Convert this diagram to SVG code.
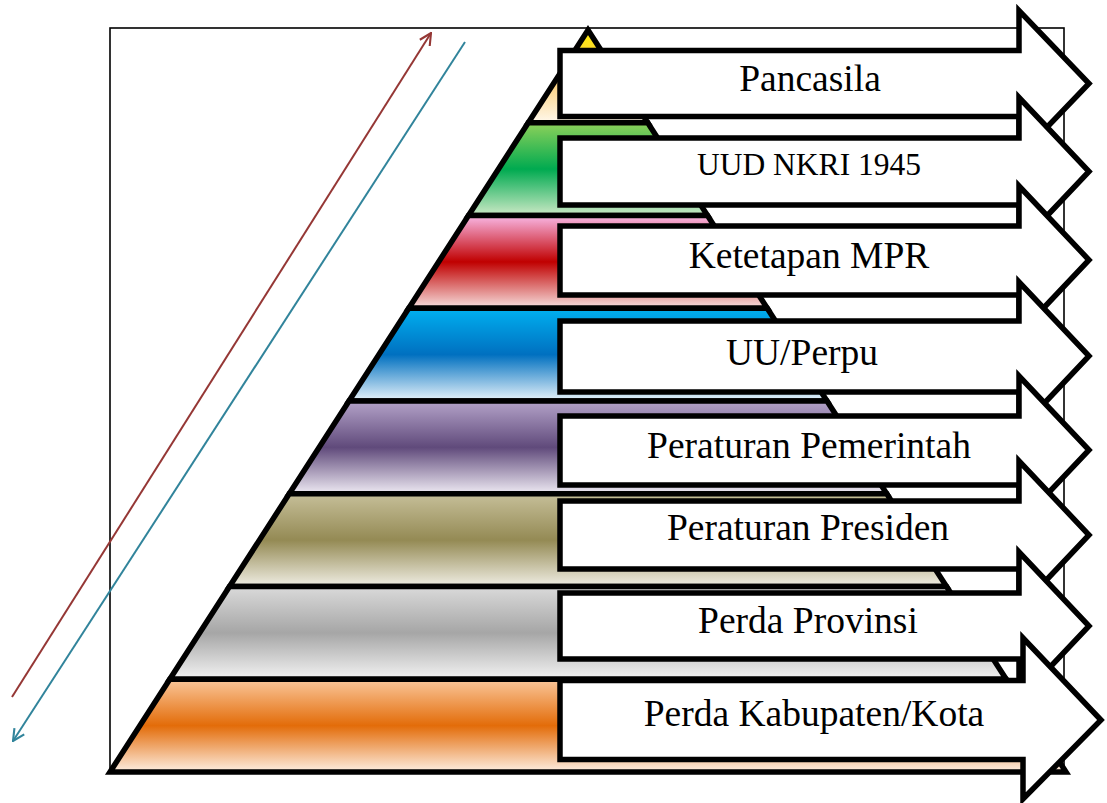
<svg xmlns="http://www.w3.org/2000/svg" width="1107" height="803" viewBox="0 0 1107 803">
<style>
.layer{stroke:#000;stroke-width:5.5;stroke-linejoin:miter}
.arr{fill:#fff;stroke:#000;stroke-width:5.5;stroke-linejoin:miter;stroke-miterlimit:10}
.lbl{font-family:"Liberation Serif","Times New Roman",serif;font-size:37.5px;fill:#000;text-anchor:middle}
.frame{fill:none;stroke:#000;stroke-width:1.6}
</style>
<defs>
<linearGradient id="g1" x1="0" y1="0" x2="0" y2="1"><stop offset="0" stop-color="#FFEE00"/><stop offset="0.45" stop-color="#FAC55E"/><stop offset="1" stop-color="#FFF8EC"/></linearGradient>
<linearGradient id="g2" x1="0" y1="0" x2="0" y2="1"><stop offset="0" stop-color="#8ED15A"/><stop offset="0.5" stop-color="#00AA50"/><stop offset="1" stop-color="#CDE9C6"/></linearGradient>
<linearGradient id="g3" x1="0" y1="0" x2="0" y2="1"><stop offset="0" stop-color="#F9B8E6"/><stop offset="0.5" stop-color="#C00000"/><stop offset="1" stop-color="#F7E0DF"/></linearGradient>
<linearGradient id="g4" x1="0" y1="0" x2="0" y2="1"><stop offset="0" stop-color="#00B0F0"/><stop offset="0.5" stop-color="#0070C0"/><stop offset="1" stop-color="#E8F3FA"/></linearGradient>
<linearGradient id="g5" x1="0" y1="0" x2="0" y2="1"><stop offset="0" stop-color="#B4A3C9"/><stop offset="0.5" stop-color="#604A7B"/><stop offset="1" stop-color="#EEEAF3"/></linearGradient>
<linearGradient id="g6" x1="0" y1="0" x2="0" y2="1"><stop offset="0" stop-color="#C6BF99"/><stop offset="0.5" stop-color="#948A54"/><stop offset="1" stop-color="#F0EEE4"/></linearGradient>
<linearGradient id="g7" x1="0" y1="0" x2="0" y2="1"><stop offset="0" stop-color="#DADADA"/><stop offset="0.5" stop-color="#A6A6A6"/><stop offset="1" stop-color="#F3F3F3"/></linearGradient>
<linearGradient id="g8" x1="0" y1="0" x2="0" y2="1"><stop offset="0" stop-color="#FAC79B"/><stop offset="0.5" stop-color="#E36C09"/><stop offset="1" stop-color="#FDEEE2"/></linearGradient>
<marker id="mRed" viewBox="0 0 12 12" refX="11" refY="6" markerWidth="14" markerHeight="14" markerUnits="userSpaceOnUse" orient="auto"><path d="M1,1 L11,6 L1,11" fill="none" stroke="#953735" stroke-width="1.8"/></marker>
<marker id="mTeal" viewBox="0 0 12 12" refX="11" refY="6" markerWidth="14" markerHeight="14" markerUnits="userSpaceOnUse" orient="auto"><path d="M1,1 L11,6 L1,11" fill="none" stroke="#31849B" stroke-width="1.8"/></marker>
</defs>
<rect width="1107" height="803" fill="#fff"/>
<rect class="frame" x="110" y="28" width="954" height="744"/>
<g id="pyramid">
<polygon id="layer1" class="layer" fill="url(#g1)" points="588,30 647.75,122.75 528.25,122.75"/>
<polygon id="layer2" class="layer" fill="url(#g2)" points="528.25,122.75 647.75,122.75 707.5,215.5 468.5,215.5"/>
<polygon id="layer3" class="layer" fill="url(#g3)" points="468.5,215.5 707.5,215.5 767.25,308.25 408.75,308.25"/>
<polygon id="layer4" class="layer" fill="url(#g4)" points="408.75,308.25 767.25,308.25 827,401 349,401"/>
<polygon id="layer5" class="layer" fill="url(#g5)" points="349,401 827,401 886.75,493.75 289.25,493.75"/>
<polygon id="layer6" class="layer" fill="url(#g6)" points="289.25,493.75 886.75,493.75 946.5,586.5 229.5,586.5"/>
<polygon id="layer7" class="layer" fill="url(#g7)" points="229.5,586.5 946.5,586.5 1006.25,679.25 169.75,679.25"/>
<polygon id="layer8" class="layer" fill="url(#g8)" points="169.75,679.25 1006.25,679.25 1066,772 110,772"/>
</g>
<g id="connectors">
<line x1="12" y1="697" x2="431" y2="33" stroke="#953735" stroke-width="2" marker-end="url(#mRed)"/>
<line x1="465" y1="42" x2="13" y2="741" stroke="#31849B" stroke-width="2" marker-end="url(#mTeal)"/>
</g>
<g id="n1"><path class="arr" d="M560,50.5 H1019 V10.5 L1089,83.5 L1019,156.5 V116.5 H560 Z"/><text class="lbl" x="810" y="91">Pancasila</text></g>
<g id="n2"><path class="arr" d="M560,138 H1019 V97.5 L1089,171.5 L1019,245.5 V205 H560 Z"/><text class="lbl" x="809" y="175" style="font-size:31.5px">UUD NKRI 1945</text></g>
<g id="n3"><path class="arr" d="M560,226 H1019 V186 L1089,260 L1019,334 V295 H560 Z"/><text class="lbl" x="809" y="268">Ketetapan MPR</text></g>
<g id="n4"><path class="arr" d="M560,321 H1019 V282 L1089,356 L1019,430 V392 H560 Z"/><text class="lbl" x="802" y="365">UU/Perpu</text></g>
<g id="n5"><path class="arr" d="M560,416 H1019 V376 L1089,450 L1019,524 V485 H560 Z"/><text class="lbl" x="809" y="458">Peraturan Pemerintah</text></g>
<g id="n6"><path class="arr" d="M560,501 H1019 V461 L1089,535 L1019,609 V569 H560 Z"/><text class="lbl" x="808" y="540">Peraturan Presiden</text></g>
<g id="n7"><path class="arr" d="M560,593 H1019 V552 L1089,626 L1019,700 V659 H560 Z"/><text class="lbl" x="808" y="633">Perda Provinsi</text></g>
<g id="n8"><path class="arr" d="M560,680.5 H1023 V638 L1101,720 L1023,799 V759.5 H560 Z"/><text class="lbl" x="814" y="726">Perda Kabupaten/Kota</text></g>
</svg>
